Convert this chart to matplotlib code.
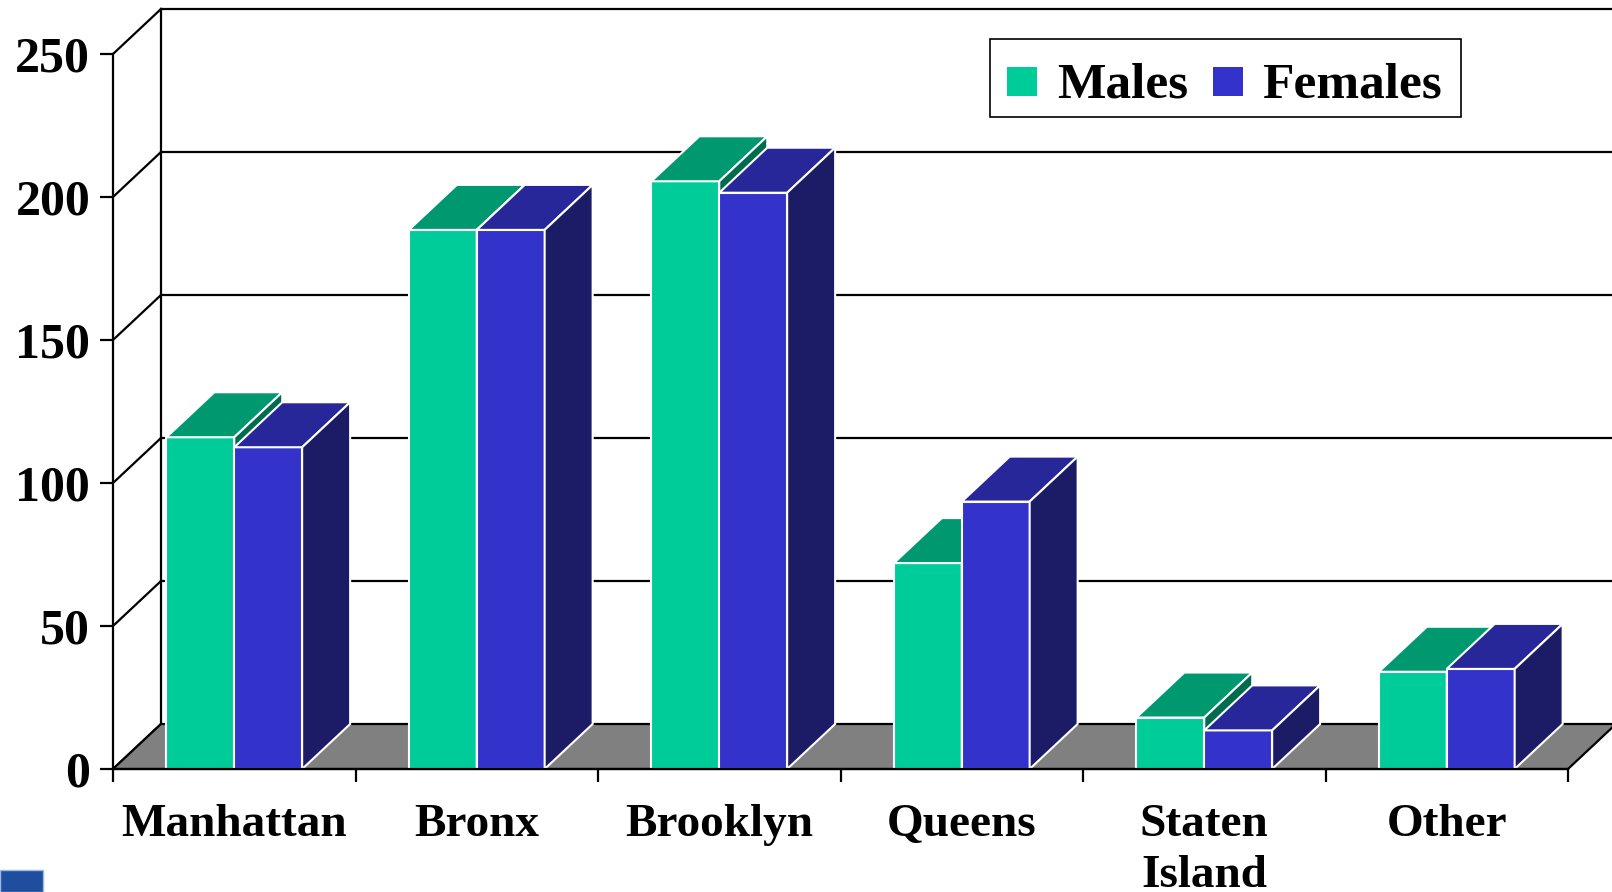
import matplotlib
matplotlib.use("Agg")
import matplotlib.pyplot as plt
from matplotlib.patches import Polygon, Rectangle

categories = ["Manhattan", "Bronx", "Brooklyn", "Queens", "Staten\nIsland", "Other"]
males = [116, 188.5, 205.5, 72, 18, 34]
females = [112.5, 188.5, 201.5, 93.5, 13.5, 35]
yticks = [0, 50, 100, 150, 200, 250]

W, H = 1612, 892
fig = plt.figure(figsize=(W / 100, H / 100), dpi=100)
left_px, right_px, bot_px, top_px = 113, 1568, 769, 54
ax = fig.add_axes([left_px / W, (H - bot_px) / H, (right_px - left_px) / W, (bot_px - top_px) / H])
n = len(categories)
ax.set_xlim(0, n)
ax.set_ylim(0, 250)

# depth offset in data units
ddx = 48 / ((right_px - left_px) / n)
ddy = 45 / ((bot_px - top_px) / 250)

LW = 1.6
# walls / grid
for v in yticks:
    ax.plot([0, ddx], [v, v + ddy], color="black", lw=LW, clip_on=False, zorder=1)
    if v > 0:
        ax.plot([ddx, n + ddx], [v + ddy, v + ddy], color="black", lw=LW, clip_on=False, zorder=1)
ax.plot([ddx, ddx], [ddy, 250 + ddy], color="black", lw=LW, clip_on=False, zorder=1)

# floor
ax.add_patch(Polygon([(0, 0), (n, 0), (n + ddx, ddy), (ddx, ddy)], closed=True,
                     facecolor="#808080", edgecolor="black", lw=LW, clip_on=False, zorder=2))

bw = 0.28
cols = {
    "m": ("#00CC99", "#00996F", "#006B4E"),
    "f": ("#3333CC", "#27279A", "#1C1B66"),
}

def bar3d(x0, v, c, z):
    x1 = x0 + bw
    front, top, side = c
    kw = dict(closed=True, edgecolor="white", lw=1.5, clip_on=False, zorder=z, joinstyle="miter")
    ax.add_patch(Polygon([(x0, 0), (x1, 0), (x1, v), (x0, v)], facecolor=front, **kw))
    ax.add_patch(Polygon([(x0, v), (x1, v), (x1 + ddx, v + ddy), (x0 + ddx, v + ddy)], facecolor=top, **kw))
    ax.add_patch(Polygon([(x1, 0), (x1 + ddx, ddy), (x1 + ddx, v + ddy), (x1, v)], facecolor=side, **kw))

z = 3
for i in range(n):
    c = i + 0.5
    bar3d(c - bw, males[i], cols["m"], z); z += 1
    bar3d(c, females[i], cols["f"], z); z += 1

# axes styling
for s in ["top", "right"]:
    ax.spines[s].set_visible(False)
for s in ["left", "bottom"]:
    ax.spines[s].set_linewidth(LW)
    ax.spines[s].set_zorder(50)
ax.patch.set_visible(False)

font = dict(family="Liberation Serif", weight="bold")
ax.set_yticks(yticks)
ax.set_yticklabels([str(t) for t in yticks], fontsize=36, **font)
ax.set_xticks(range(n + 1))
ax.set_xticklabels([])
ax.set_xticks([i + 0.5 for i in range(n)], minor=True)
ax.set_xticklabels(categories, minor=True, fontsize=34, linespacing=1.3, **font)
ax.tick_params(axis="both", which="major", direction="out", length=9.4, width=LW, color="black")
ax.tick_params(axis="y", pad=7)
ax.tick_params(axis="x", which="minor", length=0, pad=25)

# legend (manual, figure pixel coordinates)
def fx(px):
    return px / W
def fy(py):
    return (H - py) / H

fig.add_artist(Rectangle((fx(990), fy(117)), fx(1461) - fx(990), fy(39) - fy(117),
                         transform=fig.transFigure, facecolor="white", edgecolor="black", lw=1.2))
fig.add_artist(Rectangle((fx(1007), fy(96)), fx(1037) - fx(1007), fy(67) - fy(96),
                         transform=fig.transFigure, facecolor="#00CC99", edgecolor="none"))
fig.add_artist(Rectangle((fx(1213), fy(96)), fx(1243) - fx(1213), fy(67) - fy(96),
                         transform=fig.transFigure, facecolor="#3333CC", edgecolor="none"))
fig.text(fx(1057), fy(97), "Males", fontsize=37, va="baseline", ha="left", **font)
fig.text(fx(1262), fy(97), "Females", fontsize=37, va="baseline", ha="left", **font)

# small screen icon at bottom-left
fig.add_artist(Rectangle((0, fy(892)), fx(43), fy(870) - fy(892), transform=fig.transFigure,
                         facecolor="#1F4E9E", edgecolor="#9FB8E0", lw=1))

fig.savefig("out.png", dpi=100)
